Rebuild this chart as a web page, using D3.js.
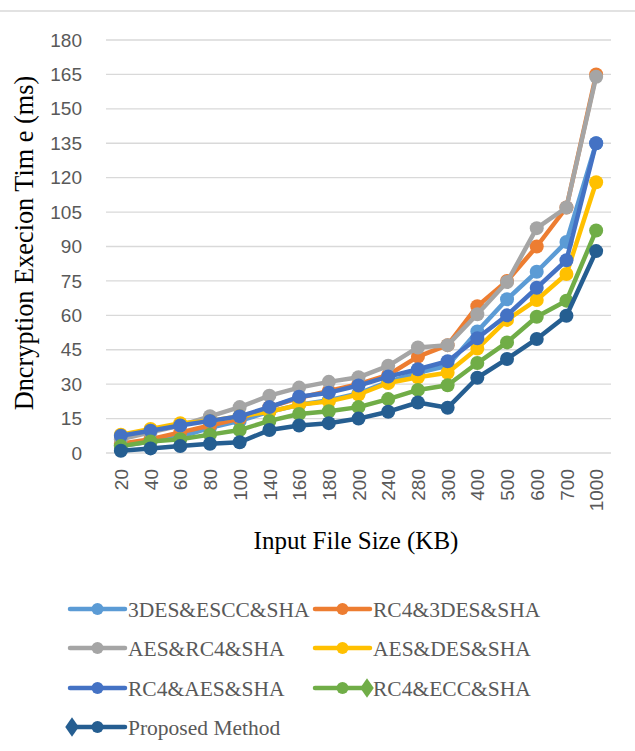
<!DOCTYPE html>
<html><head><meta charset="utf-8">
<script src="https://cdn.jsdelivr.net/npm/d3@7/dist/d3.min.js"></script>
<style>html,body{margin:0;padding:0;background:#fff;}svg{display:block;}</style>
</head><body>
<script>
const categories = ["20","40","60","80","100","140","160","180","200","240","280","300","400","500","600","700","1000"];
const yTicks = [0,15,30,45,60,75,90,105,120,135,150,165,180];
const seriesNames = ["3DES&ESCC&SHA","RC4&3DES&SHA","AES&RC4&SHA","AES&DES&SHA","RC4&AES&SHA","RC4&ECC&SHA","Proposed Method"];
const seriesColors = ["#5B9BD5","#ED7D31","#A5A5A5","#FFC000","#4472C4","#70AD47","#255E91"];
const s3desEscc = [3,5,7,11,14,18,21,23,26,31,35,38,53,67,79,92,135];
const sRc43des  = [4,6,9,12,15,20,24,27,30,34,42,47,64,75,90,107,165];
const sAesRc4   = [6,9,12,16,20,25,28.5,31,33,38,46,47,60.5,74.5,98,107,164];
const sAesDes   = [8,10.5,13,14,16,18,21,22.5,25.5,30.5,33,35,45.5,58,66.7,78,118];
const sRc4Aes   = [7.5,9.7,12,14,16,20,24.5,26.3,29.4,33.3,36.5,40,50,60,72,84,135];
const sRc4Ecc   = [3,5,6,8,10,14,17,18.2,20,23.5,27.5,29.5,39.2,48.2,59.4,66.4,97];
const sProposed = [1,2,3,4,4.7,10,12,13,15,18,22,19.7,32.8,41,49.7,59.8,88];
const allSeries = [s3desEscc,sRc43des,sAesRc4,sAesDes,sRc4Aes,sRc4Ecc,sProposed];

const W=635,H=751;
const svg=d3.select("body").append("svg").attr("width",W).attr("height",H);
svg.append("line").attr("x1",0).attr("x2",W).attr("y1",11).attr("y2",11).attr("stroke","#d9d9d9").attr("stroke-width",1.5);

const x=d3.scalePoint().domain(categories).range([106,611]).padding(0.5);
const y=d3.scaleLinear().domain([0,180]).range([453,40]);

// grid
svg.append("g").selectAll("line").data(yTicks).join("line")
  .attr("x1",106).attr("x2",611).attr("y1",d=>y(d)).attr("y2",d=>y(d))
  .attr("stroke","#d9d9d9").attr("stroke-width",1.3);

// y axis labels
const yAxis=svg.append("g").attr("transform","translate(106,0)")
  .call(d3.axisLeft(y).tickValues(yTicks).tickSize(0).tickPadding(24));
yAxis.select(".domain").remove();
yAxis.selectAll("text").attr("font-family","Liberation Sans, Arial, sans-serif").attr("font-size",19).attr("fill","#595959");

// x axis labels
const xAxis=svg.append("g").attr("transform","translate(0,453)")
  .call(d3.axisBottom(x).tickSize(0).tickPadding(0));
xAxis.select(".domain").remove();
xAxis.selectAll("text")
  .attr("font-family","Liberation Sans, Arial, sans-serif").attr("font-size",19).attr("fill","#595959")
  .attr("transform","translate(0,16) rotate(-90)").attr("text-anchor","end").attr("dy","0.35em").attr("y",0).attr("x",0);

// titles
svg.append("text").attr("x",356).attr("y",549).attr("text-anchor","middle")
  .attr("font-family","Liberation Serif, Times New Roman, serif").attr("font-size",25).attr("fill","#000")
  .text("Input File Size (KB)");
svg.append("text").attr("transform","translate(33,243) rotate(-90)").attr("text-anchor","middle")
  .attr("font-family","Liberation Serif, Times New Roman, serif").attr("font-size",26.3).attr("fill","#000")
  .text("Dncryption Execion Tim e (ms)");

// lines
const line=d3.line().x((d,i)=>x(categories[i])).y(d=>y(d));
allSeries.forEach((s,k)=>{
  const g=svg.append("g");
  g.append("path").datum(s).attr("d",line).attr("fill","none").attr("stroke",seriesColors[k]).attr("stroke-width",4.5).attr("stroke-linejoin","round");
  g.selectAll("circle").data(s).join("circle").attr("cx",(d,i)=>x(categories[i])).attr("cy",d=>y(d)).attr("r",7).attr("fill",seriesColors[k]);
});

// legend
const legPos=[[70,609],[315,609],[70,648],[315,648],[70,688],[315,688],[70,727]];
seriesNames.forEach((n,k)=>{
  const [lx,ly]=legPos[k];
  const g=svg.append("g");
  g.append("line").attr("x1",lx).attr("x2",lx+55).attr("y1",ly).attr("y2",ly).attr("stroke",seriesColors[k]).attr("stroke-width",4.5).attr("stroke-linecap","round");
  g.append("circle").attr("cx",lx+27.5).attr("cy",ly).attr("r",6).attr("fill",seriesColors[k]);
  if(k===5){
    g.append("path").attr("d",d3.symbol().type(d3.symbolDiamond).size(110)()).attr("transform",`translate(${lx+52},${ly}) scale(1.2,1)`).attr("fill",seriesColors[k]);
  }
  if(k===6){
    g.append("path").attr("d",d3.symbol().type(d3.symbolDiamond).size(110)()).attr("transform",`translate(${lx+2},${ly}) scale(1.2,1)`).attr("fill",seriesColors[k]);
  }
  g.append("text").attr("x",lx+58).attr("y",ly).attr("dy","0.35em")
    .attr("font-family","Liberation Serif, Times New Roman, serif").attr("font-size",21.5).attr("fill","#595959").text(n);
});
</script>
</body></html>
